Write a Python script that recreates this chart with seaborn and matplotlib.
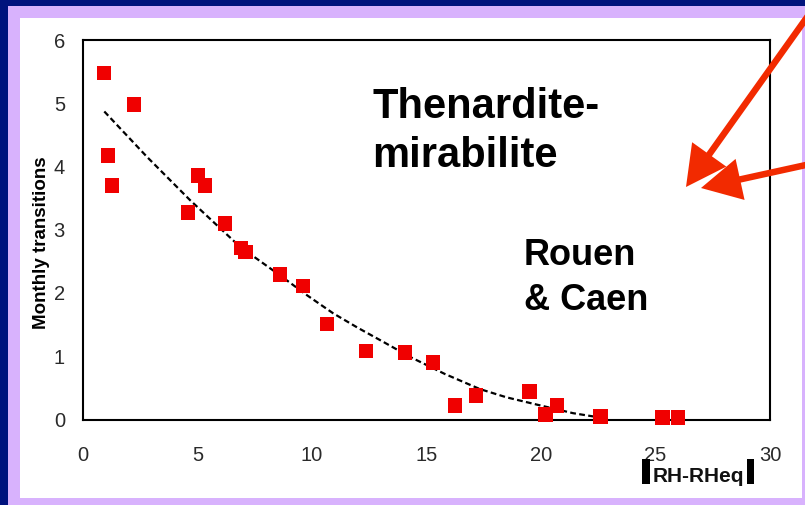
import numpy as np
import pandas as pd
import matplotlib
matplotlib.use("Agg")
import matplotlib.pyplot as plt
from matplotlib.patches import Rectangle, FancyArrow
import seaborn as sns

# Monthly thenardite-mirabilite transitions vs |RH-RHeq|
rh_diff = [0.92, 1.09, 1.27, 2.23, 4.59, 5.02, 5.33, 6.20, 6.90, 7.10,
           8.60, 9.60, 10.65, 12.36, 14.06, 15.28, 16.24, 17.16, 19.50,
           20.20, 20.70, 22.60, 25.30, 25.98]
transitions = [5.48, 4.17, 3.70, 4.98, 3.27, 3.86, 3.70, 3.10, 2.71, 2.65,
               2.29, 2.11, 1.51, 1.08, 1.06, 0.90, 0.22, 0.38, 0.44,
               0.08, 0.22, 0.05, 0.03, 0.03]

# Trend curve
trend_x = [0.93, 2.8, 4.67, 5.91, 6.86, 8.6, 9.8, 10.92, 12.0, 13.1, 14.28,
           15.8, 17.34, 18.5, 19.65, 21.4, 22.6]
trend_y = [4.87, 4.15, 3.47, 3.05, 2.73, 2.28, 1.96, 1.68, 1.45, 1.23, 0.99,
           0.72, 0.48, 0.35, 0.25, 0.10, 0.03]

x_ticks = [0, 5, 10, 15, 20, 25, 30]
y_ticks = [0, 1, 2, 3, 4, 5, 6]

sns.set_theme(style="white")
plt.rcParams["font.family"] = ["Liberation Sans", "DejaVu Sans"]

W, H = 805, 505
fig = plt.figure(figsize=(W / 100, H / 100), dpi=100)
fig.patch.set_facecolor("#00137d")


def fx(px):
    return px / W


def fy(py):
    return 1 - py / H


# slide frame: lavender band and white panel
fig.patches.append(Rectangle((fx(8), 0), 1 - fx(8), fy(6), transform=fig.transFigure,
                             facecolor="#d8b2fd", edgecolor="none", zorder=-2))
fig.patches.append(Rectangle((fx(20), fy(498)), fx(802) - fx(20), fy(18) - fy(498),
                             transform=fig.transFigure, facecolor="white",
                             edgecolor="none", zorder=-1))

ax = fig.add_axes([fx(83), fy(419.5), fx(770) - fx(83), fy(40) - fy(419.5)])
ax.set_facecolor("none")
ax.set_zorder(1)

df = pd.DataFrame({"x": rh_diff, "y": transitions})
trend = pd.DataFrame({"x": trend_x, "y": trend_y})

sns.lineplot(data=trend, x="x", y="y", ax=ax, color="black", linewidth=1.6,
             linestyle=(0, (2.6, 1.5)), zorder=2)
sns.scatterplot(data=df, x="x", y="y", ax=ax, marker="s", s=110, color="#f00000",
                edgecolor="none", linewidth=0, zorder=3, clip_on=False)

ax.set_xlim(0, 30)
ax.set_ylim(0, 6)
ax.set_xticks(x_ticks)
ax.set_yticks(y_ticks)
ax.set_xlabel("")
ax.set_ylabel("")
for s in ax.spines.values():
    s.set_visible(True)
    s.set_color("black")
    s.set_linewidth(1.5)
ax.tick_params(axis="both", direction="in", length=5, width=1.2, colors="black",
               labelcolor="#2a2a2a", labelsize=14.5)
ax.tick_params(axis="x", pad=19)
ax.tick_params(axis="y", pad=13)

# axis titles
fig.text(fx(42), fy(243), "Monthly transitions", rotation=90, fontsize=13.5,
         fontweight="bold", ha="center", va="center", color="black")
fig.text(fx(698.5), fy(482), "RH-RHeq", fontsize=15, fontweight="bold",
         ha="center", va="baseline", color="#111111")
fig.patches.append(Rectangle((fx(642), fy(484)), fx(650) - fx(642), fy(459) - fy(484),
                             transform=fig.transFigure, facecolor="black",
                             edgecolor="none", zorder=5))
fig.patches.append(Rectangle((fx(747), fy(484)), fx(754) - fx(747), fy(459) - fy(484),
                             transform=fig.transFigure, facecolor="black",
                             edgecolor="none", zorder=5))

# annotations
fig.text(fx(372), fy(118), "Thenardite-", fontsize=30, fontweight="bold",
         ha="left", va="baseline", color="black")
fig.text(fx(372), fy(167), "mirabilite", fontsize=30, fontweight="bold",
         ha="left", va="baseline", color="black")
fig.text(fx(524), fy(265), "Rouen", fontsize=26, fontweight="bold",
         ha="left", va="baseline", color="black")
fig.text(fx(524), fy(310), "& Caen", fontsize=26, fontweight="bold",
         ha="left", va="baseline", color="black")

# red arrows (drawn in inches so heads keep their shape)
def arrow(x0, y0, x1, y1):
    a = FancyArrow(x0 / 100, (H - y0) / 100, (x1 - x0) / 100, -(y1 - y0) / 100,
                   width=0.065, head_width=0.42, head_length=0.40,
                   length_includes_head=True, transform=fig.dpi_scale_trans,
                   facecolor="#f22a00", edgecolor="none", zorder=6)
    fig.patches.append(a)


arrow(815, 6, 686, 187)
arrow(815, 163, 701, 188)

fig.savefig("out.png", dpi=100, facecolor=fig.get_facecolor())
